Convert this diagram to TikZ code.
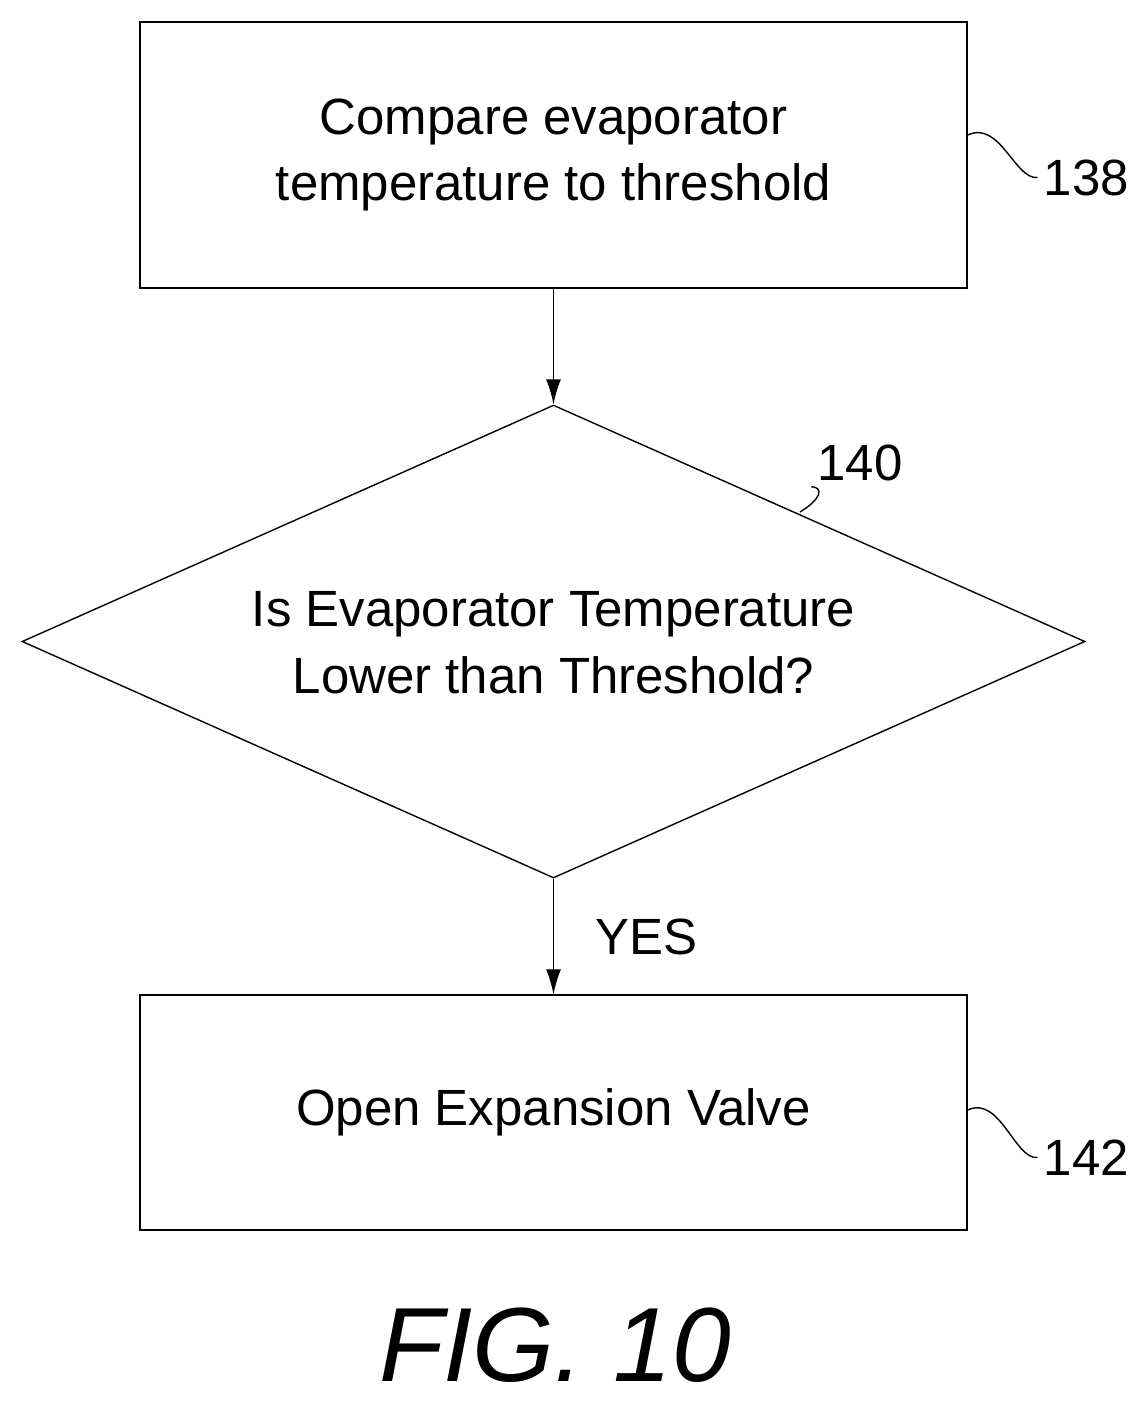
\documentclass[tikz,border=0pt]{standalone}
\usepackage{fontspec}
\setmainfont{Liberation Sans}
\usetikzlibrary{shapes.geometric,positioning,arrows.meta}

\tikzset{
  procbox/.style={draw,thick,minimum width=16.54cm,inner sep=0pt,align=center,font=\fontsize{29pt}{38pt}\selectfont},
  decide/.style={draw,thick,diamond,minimum width=21.26cm,minimum height=9.46cm,inner sep=0pt},
  ref/.style={font=\fontsize{29pt}{34pt}\selectfont},
  flow/.style={thick,-{Latex[length=0.5cm,width=0.3cm]}}
}

\begin{document}
\begin{tikzpicture}
  \useasboundingbox (0,0) rectangle (22.96,-28.02);

  % Boxes
  \node[procbox,minimum height=5.32cm] (compare) at (11.07,-3.10) {Compare evaporator\\temperature to threshold};
  \node[decide] (check) at (11.07,-12.83) {};
  \node[align=center,font=\fontsize{29pt}{38pt}\selectfont] (checktxt) at (11.07,-12.85) {Is Evaporator Temperature\\Lower than Threshold?};
  \node[procbox,minimum height=4.70cm] (open) at (11.07,-22.25) {Open Expansion Valve};

  % Arrows
  \draw[flow] (compare.south) -- (check.north);
  \draw[flow] (check.south) -- node[right=0.7cm,font=\fontsize{29pt}{34pt}\selectfont] (yes) {YES} (open.north);

  % Reference numerals
  \node[ref,anchor=west] (n138) at (20.75,-3.55) {138};
  \draw[thick] (compare.east |- 0,-2.70) .. controls (20.0,-2.40) and (20.3,-3.60) .. (n138.west);
  \node[ref] (n140) at (17.20,-9.25) {140};
  \coordinate (c140) at (16.00,-10.24);
  \draw[thick] (c140) .. controls (16.40,-10.00) and (16.50,-9.75) .. (n140.south west);
  \node[ref,anchor=west] (n142) at (20.75,-23.15) {142};
  \draw[thick] (open.east |- 0,-22.20) .. controls (20.0,-21.90) and (20.3,-23.20) .. (n142.west);

  % Figure label
  \node[font=\fontsize{60pt}{70pt}\selectfont\itshape] (fig) at (11.10,-26.90) {FIG. 10};
\end{tikzpicture}
\end{document}
